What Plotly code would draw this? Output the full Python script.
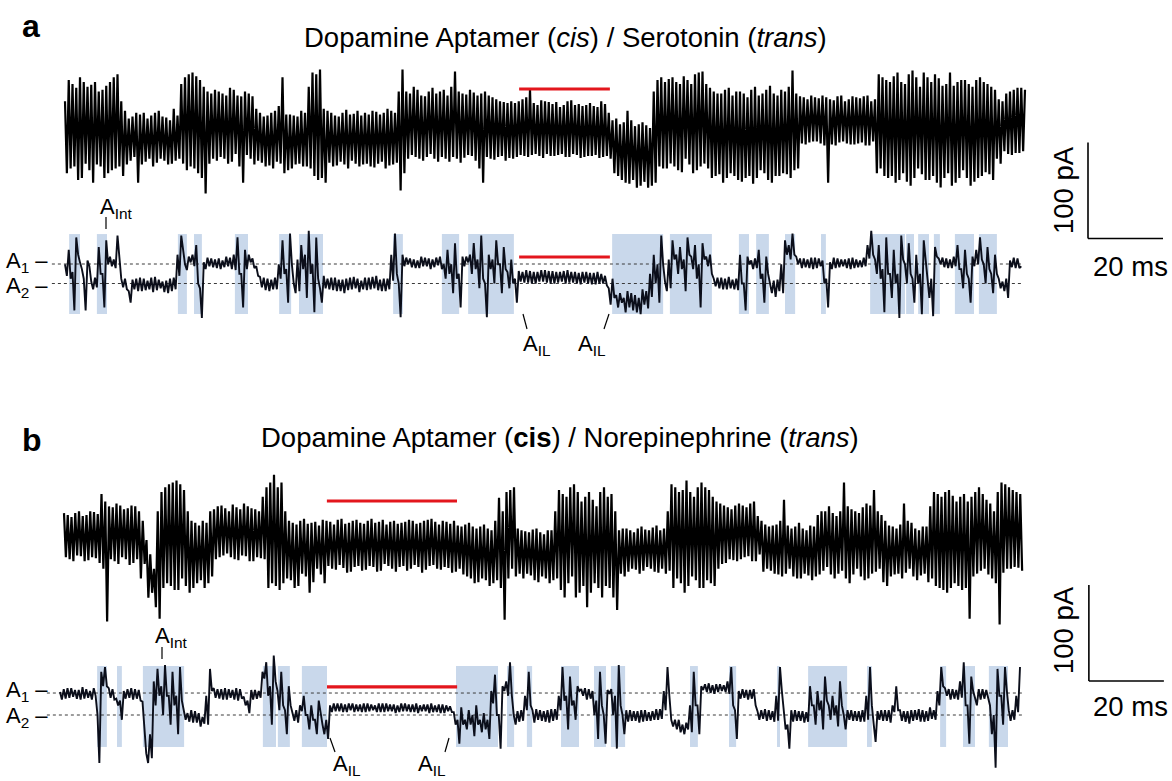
import numpy as np
import plotly.graph_objects as go

W, H = 1172, 781
PX_PER_MS = 3.75      # horizontal scale (20 ms scale bar = 75 px)
PX_PER_PA = 0.96      # vertical scale (100 pA scale bar = 96 px)
DT_MS = 1.0           # one digitised pair of samples per ms
HALF_MS = 0.5

# ---------------- data (pA) ----------------
# two samples read per ms for each trace (first array, second array);
# each ms is drawn as a stroke between its higher and its lower sample
a_top_pA = [30, -40, 48, -52, 55, -35, 45, -55, 50, -38,
            42, -45, 50, -40, 58, -48, 20, -32, 14, -55,
            16, -33, 12, -38, 18, -30, 14, -36, 10, -32,
            15, -35, 55, -38, 60, -45, 52, -66, 40, -30,
            42, -28, 38, -35, 44, -25, 36, -55, 40, -30,
            35, -32, 18, -38, 15, -40, 20, -35, 55, -42,
            16, -36, 14, -38, 18, -40, 60, -52, 63, -55,
            20, -38, 15, -33, 18, -40, 16, -35, 20, -36,
            18, -38, 20, -35, 16, -40, 22, -36, 18, -63,
            63, -30, 38, -28, 42, -32, 35, -25, 44, -33,
            40, -30, 36, -28, 61, -34, 38, -26, 42, -32,
            36, -55, 40, -30, 34, -28, 30, -32, 28, -30,
            28, -26, 32, -28, 42, -25, 26, -29, 30, -27,
            27, -26, 24, -28, 30, -25, 26, -29, 25, -27,
            28, -26, 24, -28, 27, -30, 10, -48, 6, -55,
            20, -52, 4, -58, 8, -60, 2, -55, 52, -40,
            50, -35, 55, -42, 48, -30, 52, -45, 58, -38,
            61, -40, 44, -48, 38, -55, 42, -45, 36, -52,
            40, -50, 34, -56, 45, -42, 38, -52, 46, -48,
            36, -45, 40, -50, 62, -40, 35, -15, 32, -12,
            34, -14, 36, -55, 32, -16, 35, -12, 30, -15,
            35, -14, 33, -16, 36, -12, 32, -40, 55, -50,
            50, -55, 60, -45, 48, -58, 62, -40, 45, -52,
            55, -48, 58, -60, 46, -45, 60, -55, 50, -42,
            52, -58, 45, -50, 55, -44, 48, -52, 42, -35,
            30, -25, 40, -24, 44, -22, 42]
a_top_half_pA = [-45, 52, -38, 44, -50, 50, -42, 47, -36, 40,
                 -50, 46, -42, 55, -38, 30, -36, 12, -28, 18,
                 -36, 18, -30, 15, -34, 20, -32, 13, -35, 22,
                 -30, 48, -42, 58, -40, 56, -50, 45, -35, 38,
                 -32, 40, -30, 36, -33, 42, -38, 35, -26, 38,
                 -36, 22, -34, 14, -37, 18, -33, 25, -45, 16,
                 -40, 15, -35, 20, -38, 45, -48, 58, -50, 22,
                 -34, 18, -37, 14, -36, 21, -32, 17, -38, 15,
                 -35, 16, -39, 19, -33, 18, -37, 20, -34, 40,
                 -45, 40, -26, 45, -30, 36, -28, 40, -30, 38,
                 -28, 42, -33, 45, -30, 40, -29, 37, -27, 39,
                 -40, 38, -28, 36, -31, 32, -27, 29, -29, 30,
                 -28, 30, -27, 34, -26, 28, -27, 31, -25, 29,
                 -27, 29, -25, 26, -28, 31, -26, 27, -28, 26,
                 -27, 25, -29, 30, -27, 18, -45, 12, -52, 8,
                 -56, 10, -60, 6, -54, 5, -58, 40, -38, 55,
                 -40, 53, -38, 50, -44, 56, -36, 48, -42, 60,
                 -35, 48, -50, 40, -46, 38, -50, 44, -48, 40,
                 -54, 38, -48, 42, -50, 36, -45, 42, -55, 38,
                 -48, 42, -46, 45, -42, 38, -14, 34, -13, 36,
                 -12, 33, -16, 34, -15, 31, -13, 36, -14, 32,
                 -15, 34, -13, 35, -16, 30, -45, 58, -48, 52,
                 -48, 56, -52, 50, -54, 58, -50, 55, -46, 60,
                 -52, 50, -55, 54, -50, 48, -58, 46, -50, 52,
                 -50, 48, -54, 52, -48, 50, -46, 45, -30, 32,
                 -22, 38, -26, 42, -24, 44]

a_low_pA = [8, 35, -28, 48, 15, -28, 18, 2, -4, 38,
            -25, 45, 18, 25, 50, 5, -6, -20, 4, -8,
            6, -7, 3, -9, 7, -5, 2, -10, 5, -6,
            8, 50, 20, 28, 18, 40, -36, 22, 27, 17,
            25, 15, 24, 18, 27, 14, 48, -25, 35, 22,
            26, 18, -4, 6, -8, 4, -6, 5, 45, -20,
            52, 0, -8, 40, -15, 55, -30, 48, -20, 8,
            -6, 6, -8, 4, -10, 5, -6, 7, -9, 3,
            -7, 6, -5, 8, -8, 5, -6, 3, 52, -35,
            30, 20, 26, 16, 24, 18, 27, 15, 25, 19,
            28, 5, 35, -10, 42, -25, 28, 22, 10, 42,
            -5, 50, -35, 30, 0, 45, -10, 38, -5, 25,
            -20, 13, 1, 14, 0, 12, 2, 14, 1, 13,
            0, 12, 2, 13, 1, 12, 0, 11, 1, 12,
            -1, 11, 0, 10, -2, -22, 5, -25, -10, -30,
            -8, -28, -12, -32, -6, -26, -14, 30, -20, 50,
            2, -5, 45, 10, 38, -8, 48, 15, 40, -25,
            42, 18, 30, -3, 6, -6, 5, -5, 4, -7,
            30, -28, 20, 24, 16, 35, -20, 28, -2, -14,
            4, -10, 45, 25, 52, 20, 26, 17, 25, 15,
            27, 18, 24, -25, 22, 16, 26, 18, 25, 15,
            27, 17, 24, 18, 26, 55, 10, 40, -30, 48,
            -15, 35, -36, 50, 0, 42, -20, 30, -32, 45,
            5, -34, 38, 20, 27, 16, 25, 18, 40, -5,
            35, -20, 28, 20, 48, 0, 38, -10, 30, -5,
            2, -15, 24, 16, 26, 18]
a_low_half_pA = [20, 5, 12, 30, 22, 5, 24, -6, 6, 10,
                 10, 20, 28, 16, 30, -4, 5, -8, -6, 5,
                 -8, 5, -6, 6, -7, 4, -9, 3, -8, 6,
                 30, 35, 14, 22, 30, 0, -5, 15, 18, 26,
                 16, 26, 17, 28, 15, 30, 10, 10, 15, 30,
                 16, 8, 7, -7, 5, -6, 6, 20, 10, 15,
                 20, -10, 25, 15, 30, 10, 20, 5, -5, -5,
                 5, -7, 6, -8, 4, -7, 6, -5, 5, -6,
                 6, -6, 7, -7, 4, -8, 5, 30, 10, 0,
                 18, 27, 17, 25, 16, 28, 18, 26, 17, 27,
                 15, 20, 10, 20, 5, 10, 18, 28, 30, 15,
                 25, 5, 0, 15, 25, 20, 20, 15, 12, 0,
                 5, 2, 12, 1, 13, 0, 12, 2, 14, 0,
                 13, 1, 12, 0, 14, 1, 12, -1, 12, 0,
                 11, -1, 12, 0, 8, -5, -15, -12, -20, -15,
                 -25, -10, -30, -15, -22, -8, 10, 0, 20, 20,
                 -8, 25, 25, 30, 15, 25, 30, 28, 5, 20,
                 25, 28, 10, 5, -5, 6, -6, 7, -6, 5,
                 0, 0, 28, 15, 26, 5, 10, 10, -10, 3,
                 -8, 20, 30, 40, 30, 28, 16, 26, 16, 27,
                 16, 26, 0, 5, 15, 27, 17, 25, 16, 26,
                 16, 25, 17, 27, 40, 30, 25, 5, 15, 10,
                 10, 0, 10, 25, 20, 10, 5, 0, 10, 20,
                 -15, 5, 28, 26, 17, 26, 16, 28, 15, 15,
                 10, 5, 18, 35, 25, 20, 15, 10, 10, 5,
                 -8, 5, 17, 27, 16]

b_top_pA = [28, -20, 24, -16, 30, -22, 26, -18, 29, -24,
            48, -85, 35, -22, 38, -18, 32, -26, 36, -20,
            30, -25, 0, -55, -30, -82, 50, -45, 58, -52,
            62, -40, 52, -55, 20, -45, 15, -50, 18, -38,
            32, -18, 36, -14, 30, -20, 34, -16, 38, -22,
            33, -18, 30, -20, 55, -45, 68, -52, 60, -40,
            20, -50, 16, -35, 22, -55, 18, -30, 15, -45,
            20, -30, 16, -26, 22, -34, 18, -28, 21, -32,
            17, -27, 22, -33, 19, -25, 16, -30, 20, -28,
            18, -32, 21, -26, 17, -34, 20, -27, 22, -30,
            16, -28, 19, -34, 20, -30, 14, -38, 18, -45,
            12, -40, 16, -48, 10, -42, 44, -83, 50, -30,
            55, -35, 10, -35, 8, -42, 12, -38, 6, -45,
            10, -40, 52, -60, 45, -38, 58, -55, 40, -70,
            50, -45, 35, -60, 55, -50, 48, -73, 10, -38,
            12, -30, 8, -35, 14, -28, 10, -33, 15, -30,
            12, -32, 58, -40, 50, -55, 62, -38, 45, -50,
            60, -42, 52, -48, 40, -25, 36, -20, 32, -22,
            38, -18, 34, -22, 40, -15, 20, -30, 14, -35,
            16, -38, 42, -30, 12, -40, 18, -35, 10, -42,
            14, -36, 30, -28, 35, -40, 25, -32, 60, -45,
            32, -30, 28, -42, 38, -35, 52, -30, 26, -48,
            15, -36, 12, -40, 38, -30, 18, -42, 10, -35,
            14, -40, 50, -50, 45, -55, 52, -45, 40, -52,
            48, -82, 45, -35, 55, -30, 42, -40, 30, -88,
            60, -30, 55, -28, 50, -32]
b_top_half_pA = [-18, 26, -22, 28, -17, 25, -21, 30, -19, 27,
                 -30, 40, -20, 34, -25, 36, -20, 33, -24, 35,
                 -40, 20, -60, -15, -70, 30, -50, 55, -48, 60,
                 -52, 58, -48, 30, -50, 18, -42, 20, -45, 30,
                 -20, 35, -16, 33, -18, 37, -21, 32, -17, 35,
                 -22, 32, -19, 45, -50, 60, -48, 55, -45, 30,
                 -42, 18, -48, 20, -38, 17, -44, 19, -36, 21,
                 -27, 19, -31, 21, -29, 17, -33, 20, -27, 18,
                 -31, 20, -28, 18, -32, 21, -27, 19, -33, 17,
                 -27, 19, -30, 20, -28, 18, -31, 21, -26, 19,
                 -31, 20, -29, 17, -33, 15, -36, 16, -40, 14,
                 -44, 14, -42, 12, -45, 20, -50, 30, -40, 52,
                 -38, 12, -40, 9, -37, 11, -44, 8, -40, 10,
                 -42, 30, -52, 48, -45, 55, -60, 50, -48, 45,
                 -55, 42, -50, 50, -48, 45, -60, 30, -35, 12,
                 -33, 10, -31, 12, -32, 11, -30, 13, -34, 10,
                 -35, 30, -50, 55, -45, 52, -48, 50, -42, 55,
                 -50, 55, -45, 45, -30, 38, -24, 34, -21, 36,
                 -20, 36, -17, 38, -22, 25, -33, 16, -32, 15,
                 -36, 20, -35, 15, -38, 14, -40, 12, -37, 15,
                 -38, 26, -32, 30, -36, 28, -35, 30, -40, 35,
                 -36, 30, -38, 34, -40, 36, -33, 30, -44, 20,
                 -38, 14, -35, 16, -34, 20, -38, 12, -37, 14,
                 -44, 35, -48, 48, -52, 50, -50, 46, -48, 45,
                 -50, 40, -38, 50, -32, 48, -36, 38, -45, 50,
                 -34, 58, -30, 52, -29, 48]

b_low_pA = [24, 17, 28, 19, 26, 16, 29, 18, 25, 20,
            -50, 30, 50, 18, 27, 17, -5, 25, 18, 28,
            17, 26, 14, -40, -45, 10, 48, 0, 52, -10,
            45, -20, 50, -5, 2, -8, 4, -12, -2, -10,
            48, 18, 27, 16, 28, 18, 26, 15, 27, 19,
            2, 26, 17, 25, 38, 55, -10, 62, 5, 45,
            -20, 30, 2, -8, 4, 20, -15, 10, -20, 15,
            -10, -25, 10, 4, 12, 3, 11, 5, 12, 4,
            11, 3, 12, 5, 10, 3, 12, 4, 11, 2,
            10, 4, 12, 3, 11, 2, 10, 4, 11, 3,
            10, 2, 11, 4, 9, 3, -30, 8, -15, 5,
            -22, 10, -18, 2, -25, 12, 42, -35, 30, 20,
            55, -10, 4, -6, 5, 45, -8, 6, -6, 4,
            -8, 6, -5, 5, 50, -15, 40, -5, 30, 20,
            28, 17, 25, -25, 45, -30, 22, 27, -35, 52,
            -20, 5, -6, 4, -8, 5, -6, 3, -5, 6,
            -4, 5, 50, -5, -15, -5, -20, -8, -18, 45,
            -20, 30, 24, 33, 22, 32, 25, 31, 22, 50,
            -25, 25, 18, 26, 17, 27, 4, -4, 6, -5,
            4, -6, 50, 0, -35, 5, -6, 4, -8, 3,
            30, -10, 25, -15, 40, -5, 20, -12, 35, -15,
            5, -6, 4, -7, 5, -5, 50, -28, 4, -6,
            5, -8, 3, 30, -6, 4, -9, 5, -5, 6,
            -7, 4, 8, -5, 10, 50, 20, 27, 17, 26,
            18, 55, -30, 40, 10, 27, 17, 26, 10, -55,
            48, -10, 50, 5, -5, 3, 50]
b_low_half_pA = [16, 27, 18, 28, 17, 26, 17, 27, 16, 28,
                 0, 45, 30, 28, 16, 10, 15, 17, 27, 16,
                 27, 15, -10, -50, -20, 35, 20, 30, 20, 20,
                 10, 20, 15, 5, -7, 5, -8, 2, -9, 20,
                 25, 28, 17, 27, 16, 27, 16, 28, 17, 10,
                 15, 16, 26, 18, 45, 20, 30, 35, 25, 10,
                 5, 10, -6, 5, 10, 0, 0, -5, -5, 0,
                 -20, -5, 3, 12, 4, 12, 3, 12, 3, 11,
                 3, 12, 4, 11, 3, 12, 3, 12, 4, 11,
                 3, 12, 4, 11, 3, 12, 4, 11, 2, 12,
                 3, 11, 2, 10, 3, -10, -5, -10, -5, -10,
                 0, -10, -5, -15, -5, 25, 0, 0, 25, 35,
                 20, 0, -7, 5, 20, 10, 5, -5, 5, -7,
                 5, -6, 6, 20, 15, 20, 10, 15, 25, 27,
                 16, 27, 0, 15, 10, 0, 26, 0, 20, 10,
                 0, -7, 5, -6, 4, -7, 5, -6, 4, -5,
                 6, 25, 20, -12, -5, -18, -10, -15, 10, 10,
                 10, 26, 32, 23, 31, 24, 32, 24, 35, 10,
                 5, 17, 27, 16, 26, 10, -5, 5, -6, 5,
                 -7, 20, 25, -15, -10, -7, 5, -6, 4, -7,
                 10, 10, 5, 15, 15, 10, 0, 10, 10, 0,
                 -5, 5, -6, 4, -7, 20, 10, -10, -5, 5,
                 -6, 5, 10, 5, 5, -7, 4, -6, 5, -7,
                 5, -6, -4, 5, 25, 30, 28, 16, 27, 16,
                 35, 10, 10, 25, 18, 16, 27, 18, -20, 0,
                 20, 20, 25, -6, 5, 20]

# shaded (intermediate-state) intervals, ms
a_boxes_ms = [(1.1, 4.0), (8.5, 11.2), (30.1, 32.5), (34.4, 36.5), (45.3, 48.8),
              (57.1, 60.3), (62.4, 68.8), (87.5, 90.1), (100.5, 105.1), (107.5, 119.7),
              (145.9, 159.5), (161.3, 172.5), (179.7, 182.4), (184.3, 187.7), (192.0, 194.7),
              (201.6, 202.9), (214.7, 224.0), (224.3, 226.4), (227.5, 230.4), (231.7, 233.3),
              (237.3, 242.4), (243.7, 248.5)]
b_boxes_ms = [(9.9, 12.5), (15.2, 16.5), (22.1, 33.1), (54.1, 57.6), (58.1, 61.3),
              (64.5, 71.2), (105.6, 116.8), (119.2, 121.1), (124.5, 125.9), (133.6, 138.4),
              (142.4, 145.6), (146.9, 150.7), (168.0, 170.1), (178.4, 180.3), (191.2, 192.0),
              (199.5, 209.9), (215.2, 216.5), (234.7, 236.3), (240.8, 244.0), (247.7, 252.8)]
a_box_pA = (-31.8, 51.5)
b_box_pA = (-33.3, 51.0)

# current levels A1 / A2 (pA, relative to A2)
a_levels_pA = [20.3, 0.0]
b_levels_pA = [22.9, 0.0]

# red bars: (start ms, end ms, level pA) per trace
red_bars = {"a_top": (121.1, 145.3, 42.7), "a_low": (121.1, 145.3, 27.6),
            "b_top": (70.1, 104.8, 40.6), "b_low": (71.2, 105.9, 29.2)}

SCALE_MS, SCALE_PA = 20, 100

# ---------------- layout helpers ----------------
# trace placement: (xaxis, yaxis, left px, zero-level px)
SETUP = {"a_top": ("x", "y", 65, 130.0),
         "a_low": ("x2", "y2", 65, 283.5),
         "b_top": ("x3", "y3", 64, 540.0),
         "b_low": ("x4", "y4", 60, 715.0)}
DATA = {"a_top": (a_top_pA, a_top_half_pA), "a_low": (a_low_pA, a_low_half_pA),
        "b_top": (b_top_pA, b_top_half_pA), "b_low": (b_low_pA, b_low_half_pA)}

FONT = "Liberation Sans, Arial, sans-serif"


def X(px):
    return px / W


def Y(py):
    return 1 - py / H


def strokes(first, second):
    """each ms: draw from its higher sample down to its lower sample"""
    t, v = [], []
    for i, a in enumerate(first):
        if i < len(second):
            b = second[i]
            t += [i * DT_MS, i * DT_MS + HALF_MS]
            v += [max(a, b), min(a, b)]
        else:
            t.append(i * DT_MS)
            v.append(a)
    return np.array(t), np.array(v, dtype=float)


fig = go.Figure()
layout_axes = {}
for key, (xa, ya, x0, yc) in SETUP.items():
    sfx = "" if xa == "x" else xa[1:]
    layout_axes["xaxis" + sfx] = dict(domain=[0, 1], range=[-x0 / PX_PER_MS, (W - x0) / PX_PER_MS],
                                      visible=False, fixedrange=True, anchor="y" + sfx)
    layout_axes["yaxis" + sfx] = dict(domain=[0, 1], range=[(yc - H) / PX_PER_PA, yc / PX_PER_PA],
                                      visible=False, fixedrange=True, anchor="x" + sfx)

shapes = []
for key, boxes, (lo, hi), levels in (("a_low", a_boxes_ms, a_box_pA, a_levels_pA),
                                     ("b_low", b_boxes_ms, b_box_pA, b_levels_pA)):
    xa, ya, x0, yc = SETUP[key]
    for s, e in boxes:
        shapes.append(dict(type="rect", xref=xa, yref=ya, x0=s, x1=e, y0=lo, y1=hi,
                           fillcolor="#c9d8eb", line=dict(width=0), layer="below"))
    t_end = (len(DATA[key][0]) - 1) * DT_MS
    for lv in levels:
        shapes.append(dict(type="line", xref=xa, yref=ya, x0=-3.5, x1=t_end + 0.5, y0=lv, y1=lv,
                           line=dict(color="#3a3a3a", width=1, dash="dot"), layer="below"))

for key, (first, second) in DATA.items():
    xa, ya, x0, yc = SETUP[key]
    t, v = strokes(first, second)
    top = key.endswith("top")
    fig.add_trace(go.Scatter(x=t, y=v, mode="lines", xaxis=xa, yaxis=ya,
                             line=dict(color="black" if top else "#0b0e1a",
                                       width=2.2 if top else 1.9),
                             hoverinfo="skip"))

for key, (s, e, lv) in red_bars.items():
    xa, ya, x0, yc = SETUP[key]
    shapes.append(dict(type="line", xref=xa, yref=ya, x0=s, x1=e, y0=lv, y1=lv,
                       line=dict(color="#e3161d", width=3.2)))

for key, t0, p0 in (("a_top", 272.8, -113.0), ("b_top", 273.3, -146.9)):
    xa, ya, x0, yc = SETUP[key]
    shapes.append(dict(type="line", xref=xa, yref=ya, x0=t0, x1=t0, y0=p0, y1=p0 + SCALE_PA,
                       line=dict(color="black", width=1.6)))
    shapes.append(dict(type="line", xref=xa, yref=ya, x0=t0, x1=t0 + SCALE_MS, y0=p0, y1=p0,
                       line=dict(color="black", width=1.6)))

for (xa_, ya_, xb_, yb_) in [(106, 217, 106, 229), (162, 647, 162, 659),
                             (523, 314, 527, 329), (609, 314, 604, 329),
                             (330, 738, 335, 752), (449, 738, 445, 752)]:
    shapes.append(dict(type="line", xref="paper", yref="paper", x0=X(xa_), y0=Y(ya_),
                       x1=X(xb_), y1=Y(yb_), line=dict(color="black", width=1.2)))

ann = []


def text(px, py, s, size, xanchor="center", yanchor="middle", angle=0):
    ann.append(dict(x=X(px), y=Y(py), xref="paper", yref="paper", text=s, showarrow=False,
                    xanchor=xanchor, yanchor=yanchor, textangle=angle,
                    font=dict(family=FONT, size=size, color="black")))


text(31, 26, "<b>a</b>", 32)
text(32, 440, "<b>b</b>", 32)
text(565, 38, "Dopamine Aptamer (<i>cis</i>) / Serotonin (<i>trans</i>)", 27.5)
text(560, 437, "Dopamine Aptamer (<b>cis</b>) / Norepinephrine (<i>trans</i>)", 27.5)
text(116, 208, "A<sub>Int</sub>", 22)
text(171, 637, "A<sub>Int</sub>", 22)
text(537, 345, "A<sub>IL</sub>", 22)
text(592, 345, "A<sub>IL</sub>", 22)
text(347, 765, "A<sub>IL</sub>", 22)
text(432, 765, "A<sub>IL</sub>", 22)
for py, lab in ((262, "A<sub>1</sub> \u2013"), (287, "A<sub>2</sub> \u2013"),
                (691, "A<sub>1</sub> \u2013"), (717, "A<sub>2</sub> \u2013")):
    text(50, py, lab, 22, xanchor="right")
text(1063, 190, "100 pA", 27.5, angle=-90)
text(1063, 630, "100 pA", 27.5, angle=-90)
text(1130, 266, "20 ms", 27.5)
text(1130, 706, "20 ms", 27.5)

fig.update_layout(width=W, height=H, margin=dict(l=0, r=0, t=0, b=0), autosize=False,
                  paper_bgcolor="white", plot_bgcolor="rgba(0,0,0,0)", showlegend=False,
                  shapes=shapes, annotations=ann, hovermode=False, **layout_axes)

fig.write_html("out.html", config={"displayModeBar": False, "staticPlot": True},
               post_script="document.body.style.margin='0px';")
